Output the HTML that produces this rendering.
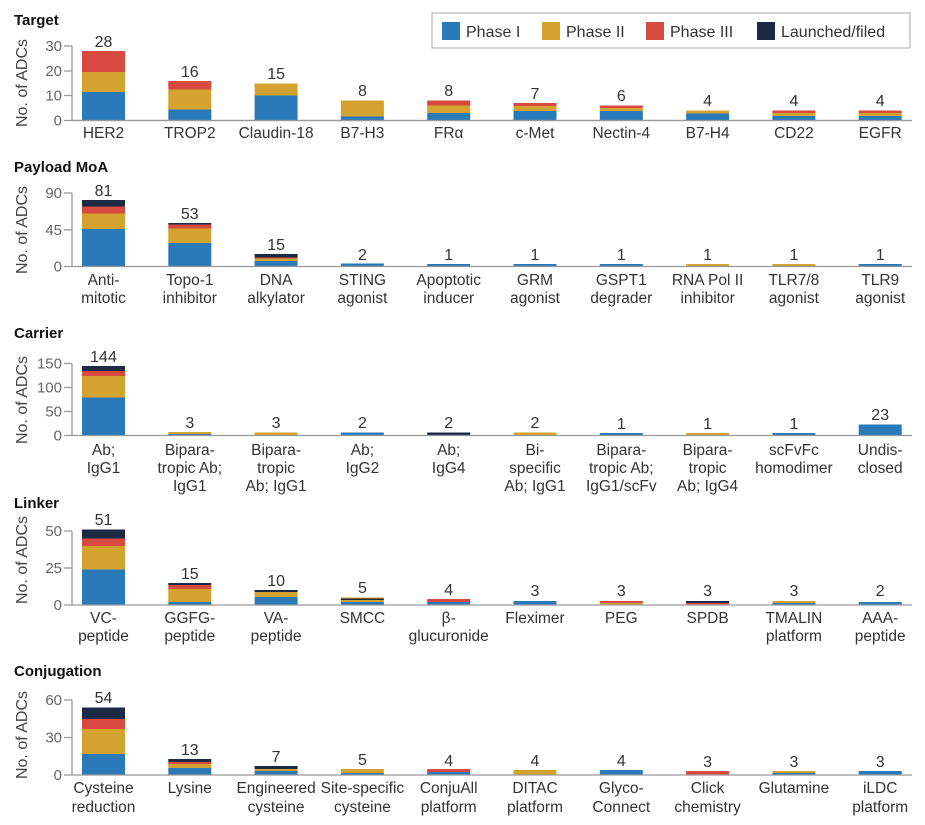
<!DOCTYPE html>
<html><head><meta charset="utf-8"><style>
html,body{margin:0;padding:0;background:#fff;}
svg{display:block;font-family:"Liberation Sans",sans-serif;}
.t{font-weight:bold;font-size:15px;fill:#111;}
.tk{font-size:15px;fill:#666;text-anchor:end;}
.yl{font-size:16px;fill:#444;text-anchor:middle;}
.n{font-size:16px;fill:#333;text-anchor:middle;}
.c{font-size:15.5px;fill:#333;text-anchor:middle;}
.lg{font-size:16px;fill:#333;}
.ax{stroke:#999;stroke-width:1.3;fill:none;}
.b{fill:#2a7ab9}.g{fill:#d4a22f}.r{fill:#d84a3f}.k{fill:#1c2a44}
</style></head><body>
<svg width="925" height="825" viewBox="0 0 925 825">
<!-- Legend -->
<rect x="432" y="13" width="478" height="35" fill="#fff" stroke="#aaa" stroke-width="1"/>
<rect x="442" y="22" width="18" height="18" class="b"/><text x="466" y="37" class="lg">Phase I</text>
<rect x="542" y="22" width="18" height="18" class="g"/><text x="566" y="37" class="lg">Phase II</text>
<rect x="646" y="22" width="18" height="18" class="r"/><text x="670" y="37" class="lg">Phase III</text>
<rect x="757" y="22" width="18" height="18" class="k"/><text x="781" y="37" class="lg">Launched/filed</text>

<!-- Panel 1 Target -->
<text x="14" y="25" class="t">Target</text>
<text transform="translate(27,83) rotate(-90)" class="yl">No. of ADCs</text>
<path class="ax" d="M72 46V120.5M64 46H72M64 71H72M64 95.5H72M64 120.5H912"/>
<text x="62" y="51" class="tk">30</text><text x="62" y="76" class="tk">20</text><text x="62" y="100.5" class="tk">10</text><text x="62" y="125.5" class="tk">0</text>
<g>
<rect x="82" y="92" width="43" height="28.5" class="b"/><rect x="82" y="72" width="43" height="20" class="g"/><rect x="82" y="51" width="43" height="21" class="r"/>
<rect x="168.3" y="109.5" width="43" height="11" class="b"/><rect x="168.3" y="89.5" width="43" height="20" class="g"/><rect x="168.3" y="81" width="43" height="8.5" class="r"/>
<rect x="254.6" y="95.5" width="43" height="25" class="b"/><rect x="254.6" y="83.5" width="43" height="12" class="g"/>
<rect x="340.9" y="116.5" width="43" height="4" class="b"/><rect x="340.9" y="100.5" width="43" height="16" class="g"/>
<rect x="427.2" y="113" width="43" height="7.5" class="b"/><rect x="427.2" y="105.5" width="43" height="7.5" class="g"/><rect x="427.2" y="100.5" width="43" height="5" class="r"/>
<rect x="513.5" y="111" width="43" height="9.5" class="b"/><rect x="513.5" y="106" width="43" height="5" class="g"/><rect x="513.5" y="103" width="43" height="3" class="r"/>
<rect x="599.8" y="111" width="43" height="9.5" class="b"/><rect x="599.8" y="108" width="43" height="3" class="g"/><rect x="599.8" y="105.5" width="43" height="2.5" class="r"/>
<rect x="686.1" y="113.5" width="43" height="7" class="b"/><rect x="686.1" y="110.5" width="43" height="3" class="g"/>
<rect x="772.4" y="116" width="43" height="4.5" class="b"/><rect x="772.4" y="113" width="43" height="3" class="g"/><rect x="772.4" y="110.5" width="43" height="2.5" class="r"/>
<rect x="858.7" y="116" width="43" height="4.5" class="b"/><rect x="858.7" y="113" width="43" height="3" class="g"/><rect x="858.7" y="110.5" width="43" height="2.5" class="r"/>
</g>
<path class="ax" d="M72 120.5H912"/>
<text x="103.5" y="47" class="n">28</text><text x="189.8" y="77" class="n">16</text><text x="276.1" y="79" class="n">15</text><text x="362.4" y="96" class="n">8</text><text x="448.7" y="96" class="n">8</text><text x="535" y="99" class="n">7</text><text x="621.3" y="101" class="n">6</text><text x="707.6" y="106" class="n">4</text><text x="793.9" y="106" class="n">4</text><text x="880.2" y="106" class="n">4</text>
<g class="c"><text x="103.5" y="138">HER2</text><text x="189.8" y="138">TROP2</text><text x="276.1" y="138">Claudin-18</text><text x="362.4" y="138">B7-H3</text><text x="448.7" y="138">FRα</text><text x="535" y="138">c-Met</text><text x="621.3" y="138">Nectin-4</text><text x="707.6" y="138">B7-H4</text><text x="793.9" y="138">CD22</text><text x="880.2" y="138">EGFR</text></g>

<!-- Panel 2 Payload -->
<text x="14" y="172" class="t">Payload MoA</text>
<text transform="translate(27,230) rotate(-90)" class="yl">No. of ADCs</text>
<path class="ax" d="M72 193V266.5M64 193H72M64 229.8H72"/>
<text x="62" y="198" class="tk">90</text><text x="62" y="235" class="tk">45</text><text x="62" y="271.5" class="tk">0</text>
<rect x="82" y="229" width="43" height="37.5" class="b"/><rect x="82" y="213.5" width="43" height="15.5" class="g"/><rect x="82" y="206.5" width="43" height="7" class="r"/><rect x="82" y="200" width="43" height="6.5" class="k"/>
<rect x="168.3" y="243" width="43" height="23.5" class="b"/><rect x="168.3" y="228.5" width="43" height="14.5" class="g"/><rect x="168.3" y="224.5" width="43" height="4" class="r"/><rect x="168.3" y="223" width="43" height="1.5" class="k"/>
<rect x="254.6" y="261" width="43" height="5.5" class="b"/><rect x="254.6" y="258.5" width="43" height="2.5" class="g"/><rect x="254.6" y="257.5" width="43" height="1" class="r"/><rect x="254.6" y="254" width="43" height="3.5" class="k"/>
<rect x="340.9" y="263.5" width="43" height="3" class="b"/>
<rect x="427.2" y="264" width="43" height="2.5" class="b"/>
<rect x="513.5" y="264" width="43" height="2.5" class="b"/>
<rect x="599.8" y="264" width="43" height="2.5" class="b"/>
<rect x="686.1" y="264" width="43" height="2.5" class="g"/>
<rect x="772.4" y="264" width="43" height="2.5" class="g"/>
<rect x="858.7" y="264" width="43" height="2.5" class="b"/>
<path class="ax" d="M64 266.5H912"/>
<text x="103.5" y="196" class="n">81</text><text x="189.8" y="219" class="n">53</text><text x="276.1" y="250" class="n">15</text><text x="362.4" y="260" class="n">2</text><text x="448.7" y="260" class="n">1</text><text x="535" y="260" class="n">1</text><text x="621.3" y="260" class="n">1</text><text x="707.6" y="260" class="n">1</text><text x="793.9" y="260" class="n">1</text><text x="880.2" y="260" class="n">1</text>
<g class="c">
<text x="103.5" y="285">Anti-</text><text x="103.5" y="303">mitotic</text>
<text x="189.8" y="285">Topo-1</text><text x="189.8" y="303">inhibitor</text>
<text x="276.1" y="285">DNA</text><text x="276.1" y="303">alkylator</text>
<text x="362.4" y="285">STING</text><text x="362.4" y="303">agonist</text>
<text x="448.7" y="285">Apoptotic</text><text x="448.7" y="303">inducer</text>
<text x="535" y="285">GRM</text><text x="535" y="303">agonist</text>
<text x="621.3" y="285">GSPT1</text><text x="621.3" y="303">degrader</text>
<text x="707.6" y="285">RNA Pol II</text><text x="707.6" y="303">inhibitor</text>
<text x="793.9" y="285">TLR7/8</text><text x="793.9" y="303">agonist</text>
<text x="880.2" y="285">TLR9</text><text x="880.2" y="303">agonist</text>
</g>

<!-- Panel 3 Carrier -->
<text x="14" y="338" class="t">Carrier</text>
<text transform="translate(27,400) rotate(-90)" class="yl">No. of ADCs</text>
<path class="ax" d="M72 363.5V435.5M64 363.5H72M64 387.5H72M64 411.5H72"/>
<text x="62" y="368.5" class="tk">150</text><text x="62" y="392.5" class="tk">100</text><text x="62" y="416.5" class="tk">50</text><text x="62" y="440.5" class="tk">0</text>
<rect x="82" y="397.5" width="43" height="38" class="b"/><rect x="82" y="376" width="43" height="21.5" class="g"/><rect x="82" y="371" width="43" height="5" class="r"/><rect x="82" y="366" width="43" height="5" class="k"/>
<rect x="168.3" y="434" width="43" height="1.5" class="b"/><rect x="168.3" y="432" width="43" height="2" class="g"/>
<rect x="254.6" y="432.5" width="43" height="3" class="g"/>
<rect x="340.9" y="432.5" width="43" height="3" class="b"/>
<rect x="427.2" y="432.5" width="43" height="3" class="k"/>
<rect x="513.5" y="432.5" width="43" height="3" class="g"/>
<rect x="599.8" y="433" width="43" height="2.5" class="b"/>
<rect x="686.1" y="433" width="43" height="2.5" class="g"/>
<rect x="772.4" y="433" width="43" height="2.5" class="b"/>
<rect x="858.7" y="424.5" width="43" height="11" class="b"/>
<path class="ax" d="M64 435.5H912"/>
<text x="103.5" y="362" class="n">144</text><text x="189.8" y="428" class="n">3</text><text x="276.1" y="428" class="n">3</text><text x="362.4" y="428" class="n">2</text><text x="448.7" y="428" class="n">2</text><text x="535" y="428" class="n">2</text><text x="621.3" y="429" class="n">1</text><text x="707.6" y="429" class="n">1</text><text x="793.9" y="429" class="n">1</text><text x="880.2" y="420" class="n">23</text>
<g class="c">
<text x="103.5" y="455">Ab;</text><text x="103.5" y="473">IgG1</text>
<text x="189.8" y="455">Bipara-</text><text x="189.8" y="473">tropic Ab;</text><text x="189.8" y="491">IgG1</text>
<text x="276.1" y="455">Bipara-</text><text x="276.1" y="473">tropic</text><text x="276.1" y="491">Ab; IgG1</text>
<text x="362.4" y="455">Ab;</text><text x="362.4" y="473">IgG2</text>
<text x="448.7" y="455">Ab;</text><text x="448.7" y="473">IgG4</text>
<text x="535" y="455">Bi-</text><text x="535" y="473">specific</text><text x="535" y="491">Ab; IgG1</text>
<text x="621.3" y="455">Bipara-</text><text x="621.3" y="473">tropic Ab;</text><text x="621.3" y="491">IgG1/scFv</text>
<text x="707.6" y="455">Bipara-</text><text x="707.6" y="473">tropic</text><text x="707.6" y="491">Ab; IgG4</text>
<text x="793.9" y="455">scFvFc</text><text x="793.9" y="473">homodimer</text>
<text x="880.2" y="455">Undis-</text><text x="880.2" y="473">closed</text>
</g>

<!-- Panel 4 Linker -->
<text x="14" y="508" class="t">Linker</text>
<text transform="translate(27,560) rotate(-90)" class="yl">No. of ADCs</text>
<path class="ax" d="M72 531V605M64 531H72M64 568H72"/>
<text x="62" y="536" class="tk">50</text><text x="62" y="573" class="tk">25</text><text x="62" y="610" class="tk">0</text>
<rect x="82" y="569.5" width="43" height="35.5" class="b"/><rect x="82" y="546" width="43" height="23.5" class="g"/><rect x="82" y="538.5" width="43" height="7.5" class="r"/><rect x="82" y="529.5" width="43" height="9" class="k"/>
<rect x="168.3" y="602" width="43" height="3" class="b"/><rect x="168.3" y="589" width="43" height="13" class="g"/><rect x="168.3" y="585" width="43" height="4" class="r"/><rect x="168.3" y="583" width="43" height="2" class="k"/>
<rect x="254.6" y="597" width="43" height="8" class="b"/><rect x="254.6" y="592" width="43" height="5" class="g"/><rect x="254.6" y="590" width="43" height="2" class="k"/>
<rect x="340.9" y="602" width="43" height="3" class="b"/><rect x="340.9" y="600" width="43" height="2" class="g"/><rect x="340.9" y="598.5" width="43" height="1.5" class="k"/><rect x="340.9" y="597.5" width="43" height="1" class="g"/>
<rect x="427.2" y="602" width="43" height="3" class="b"/><rect x="427.2" y="599" width="43" height="3" class="r"/>
<rect x="513.5" y="601" width="43" height="4" class="b"/>
<rect x="599.8" y="603" width="43" height="2" class="g"/><rect x="599.8" y="601" width="43" height="2" class="r"/>
<rect x="686.1" y="603" width="43" height="2" class="r"/><rect x="686.1" y="601" width="43" height="2" class="k"/>
<rect x="772.4" y="603" width="43" height="2" class="b"/><rect x="772.4" y="601" width="43" height="2" class="g"/>
<rect x="858.7" y="602" width="43" height="3" class="b"/>
<path class="ax" d="M64 605H912"/>
<text x="103.5" y="525" class="n">51</text><text x="189.8" y="579" class="n">15</text><text x="276.1" y="586" class="n">10</text><text x="362.4" y="593" class="n">5</text><text x="448.7" y="595" class="n">4</text><text x="535" y="596" class="n">3</text><text x="621.3" y="596" class="n">3</text><text x="707.6" y="596" class="n">3</text><text x="793.9" y="596" class="n">3</text><text x="880.2" y="596" class="n">2</text>
<g class="c">
<text x="103.5" y="623">VC-</text><text x="103.5" y="641">peptide</text>
<text x="189.8" y="623">GGFG-</text><text x="189.8" y="641">peptide</text>
<text x="276.1" y="623">VA-</text><text x="276.1" y="641">peptide</text>
<text x="362.4" y="623">SMCC</text>
<text x="448.7" y="623">β-</text><text x="448.7" y="641">glucuronide</text>
<text x="535" y="623">Fleximer</text>
<text x="621.3" y="623">PEG</text>
<text x="707.6" y="623">SPDB</text>
<text x="793.9" y="623">TMALIN</text><text x="793.9" y="641">platform</text>
<text x="880.2" y="623">AAA-</text><text x="880.2" y="641">peptide</text>
</g>

<!-- Panel 5 Conjugation -->
<text x="14" y="676" class="t">Conjugation</text>
<text transform="translate(27,735) rotate(-90)" class="yl">No. of ADCs</text>
<path class="ax" d="M72 700V775M64 700H72M64 737.5H72"/>
<text x="62" y="705" class="tk">60</text><text x="62" y="742.5" class="tk">30</text><text x="62" y="780" class="tk">0</text>
<rect x="82" y="754" width="43" height="21" class="b"/><rect x="82" y="729" width="43" height="25" class="g"/><rect x="82" y="719" width="43" height="10" class="r"/><rect x="82" y="707.5" width="43" height="11.5" class="k"/>
<rect x="168.3" y="768" width="43" height="7" class="b"/><rect x="168.3" y="764" width="43" height="4" class="g"/><rect x="168.3" y="762" width="43" height="2" class="r"/><rect x="168.3" y="759" width="43" height="3" class="k"/>
<rect x="254.6" y="771" width="43" height="4" class="b"/><rect x="254.6" y="769" width="43" height="2" class="g"/><rect x="254.6" y="766" width="43" height="3" class="k"/>
<rect x="340.9" y="773" width="43" height="2" class="b"/><rect x="340.9" y="769" width="43" height="4" class="g"/>
<rect x="427.2" y="772" width="43" height="3" class="b"/><rect x="427.2" y="769" width="43" height="3" class="r"/>
<rect x="513.5" y="770" width="43" height="5" class="g"/>
<rect x="599.8" y="770" width="43" height="5" class="b"/>
<rect x="686.1" y="771" width="43" height="4" class="r"/>
<rect x="772.4" y="773" width="43" height="2" class="b"/><rect x="772.4" y="771" width="43" height="2" class="g"/>
<rect x="858.7" y="771" width="43" height="4" class="b"/>
<path class="ax" d="M64 775H912"/>
<text x="103.5" y="703" class="n">54</text><text x="189.8" y="755" class="n">13</text><text x="276.1" y="762" class="n">7</text><text x="362.4" y="765" class="n">5</text><text x="448.7" y="766" class="n">4</text><text x="535" y="766" class="n">4</text><text x="621.3" y="766" class="n">4</text><text x="707.6" y="767" class="n">3</text><text x="793.9" y="767" class="n">3</text><text x="880.2" y="767" class="n">3</text>
<g class="c">
<text x="103.5" y="793">Cysteine</text><text x="103.5" y="812">reduction</text>
<text x="189.8" y="793">Lysine</text>
<text x="276.1" y="793">Engineered</text><text x="276.1" y="812">cysteine</text>
<text x="362.4" y="793">Site-specific</text><text x="362.4" y="812">cysteine</text>
<text x="448.7" y="793">ConjuAll</text><text x="448.7" y="812">platform</text>
<text x="535" y="793">DITAC</text><text x="535" y="812">platform</text>
<text x="621.3" y="793">Glyco-</text><text x="621.3" y="812">Connect</text>
<text x="707.6" y="793">Click</text><text x="707.6" y="812">chemistry</text>
<text x="793.9" y="793">Glutamine</text>
<text x="880.2" y="793">iLDC</text><text x="880.2" y="812">platform</text>
</g>
</svg>
</body></html>
